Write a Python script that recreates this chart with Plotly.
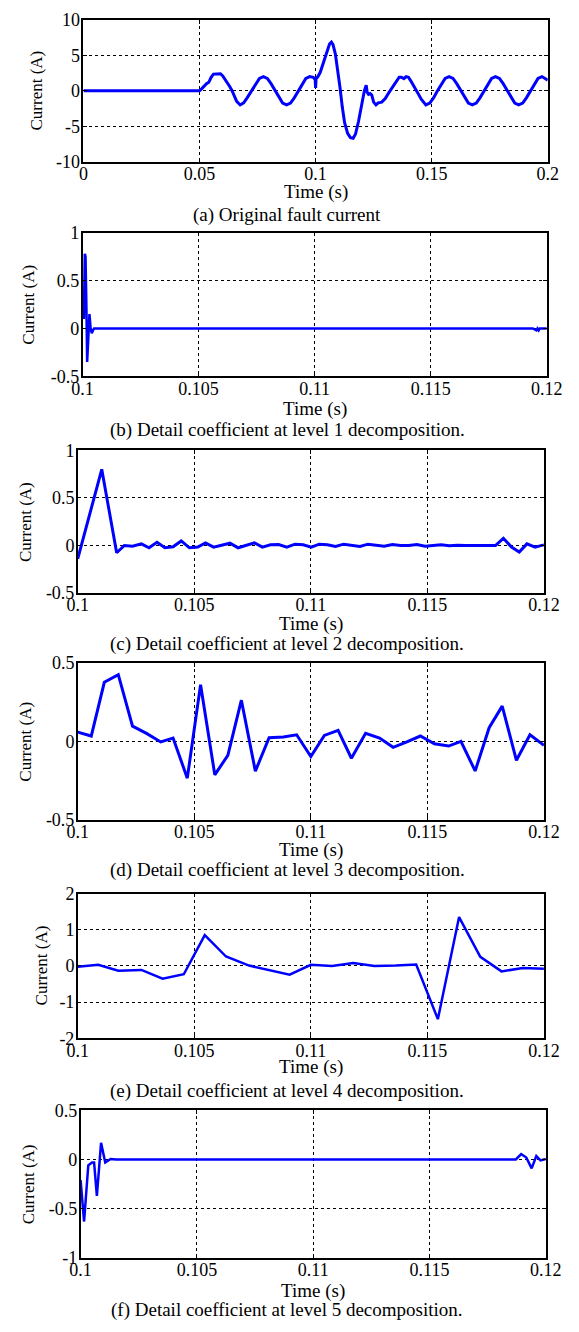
import plotly.graph_objects as go

# ---------------- DATA ----------------
# (a) Original fault current
t_a = [0.0, 0.05, 0.051, 0.052, 0.053, 0.054, 0.055, 0.056, 0.0575, 0.059, 0.060, 0.0615,
       0.063, 0.064, 0.065, 0.066, 0.0675, 0.069, 0.0705, 0.0725, 0.0742, 0.0758, 0.0775,
       0.0792, 0.0808, 0.0825, 0.0842, 0.0858, 0.0875, 0.0892, 0.0908, 0.0925, 0.0942,
       0.0958, 0.0975, 0.0990, 0.0998, 0.1000, 0.1002, 0.1010, 0.1020, 0.1030, 0.1040,
       0.1050, 0.1060, 0.1068, 0.1075, 0.1085, 0.1095, 0.1105, 0.1115, 0.1125, 0.1138,
       0.1150, 0.1162, 0.1172, 0.1185, 0.1198, 0.1210, 0.1218, 0.1222, 0.1228, 0.1235,
       0.1242, 0.1250, 0.1260, 0.1270, 0.1285, 0.1300, 0.1315, 0.1330, 0.1340, 0.1350,
       0.1360, 0.1370, 0.1380, 0.1390, 0.1400, 0.1410, 0.1425, 0.1440, 0.1455, 0.1475,
       0.1492, 0.1508, 0.1525, 0.1542, 0.1558, 0.1575, 0.1592, 0.1608, 0.1625, 0.1642,
       0.1658, 0.1675, 0.1692, 0.1708, 0.1725, 0.1742, 0.1758, 0.1775, 0.1792, 0.1808,
       0.1825, 0.1842, 0.1858, 0.1875, 0.1892, 0.1908, 0.1925, 0.1942, 0.1958, 0.1975,
       0.1992, 0.2]
i_a = [0.0, 0.0, 0.3, 0.7, 1.0, 1.2, 1.9, 2.35, 2.4, 2.4, 2.1, 1.4,
       0.6, 0.0, -0.9, -1.5, -2.0, -1.7, -1.0, 0.0, 1.0, 1.73, 2.0,
       1.73, 1.0, 0.0, -1.0, -1.73, -2.0, -1.73, -1.0, 0.0, 1.0,
       1.73, 2.0, 1.9, 1.6, 0.4, 1.7, 2.0, 2.6, 3.6, 4.6,
       5.8, 6.6, 6.85, 6.5, 5.2, 3.0, 0.5, -2.3, -4.5, -6.0,
       -6.6, -6.7, -6.1, -4.3, -1.8, 0.0, 0.8, -0.2, -0.5, -0.4,
       -0.6, -1.6, -2.0, -1.7, -1.6, -1.1, -0.3, 0.4, 0.8, 1.4,
       1.9, 1.9, 1.7, 2.0, 1.9, 1.4, 0.6, -0.3, -1.2, -2.0,
       -1.73, -1.0, 0.0, 1.0, 1.73, 2.0, 1.73, 1.0, 0.0, -1.0,
       -1.73, -2.0, -1.73, -1.0, 0.0, 1.0, 1.73, 2.0, 1.73, 1.0,
       0.0, -1.0, -1.73, -2.0, -1.73, -1.0, 0.0, 1.0, 1.73, 2.0,
       1.73, 1.5]

# (b) Detail coefficient level 1
t_b = [0.1, 0.10003, 0.10006, 0.1001, 0.10013, 0.10017, 0.1002, 0.10025, 0.1003,
       0.10035, 0.1004, 0.10045, 0.1005, 0.1006, 0.1194, 0.11955, 0.1196, 0.11965,
       0.1197, 0.11975, 0.12]
d1 = [0.18, 0.12, 0.1, 0.78, 0.75, 0.2, -0.35, -0.1, 0.15,
      0.0, -0.05, -0.02, 0.0, 0.0, 0.0, -0.02, 0.0, -0.02,
      0.0, 0.0, 0.0]

# (c) Detail coefficient level 2
t_c = [0.1, 0.10103, 0.10167, 0.1020, 0.10235, 0.10273, 0.10306, 0.1034, 0.10374,
       0.10409, 0.10444, 0.10479, 0.10515, 0.10548, 0.10583, 0.10618, 0.10653, 0.10688,
       0.10723, 0.10758, 0.10792, 0.10827, 0.10862, 0.10897, 0.10932, 0.10967, 0.11002,
       0.11036, 0.11071, 0.11106, 0.11141, 0.11176, 0.11211, 0.11245, 0.1128, 0.11315,
       0.1135, 0.11385, 0.1142, 0.11455, 0.1149, 0.11524, 0.11559, 0.11594, 0.11629,
       0.11664, 0.11698, 0.11733, 0.11768, 0.11792, 0.11826, 0.11861, 0.11894, 0.11927,
       0.11962, 0.12]
d2 = [-0.14, 0.80, -0.076, 0.0, -0.007, 0.017, -0.024, 0.034, -0.024,
      -0.014, 0.048, -0.024, -0.017, 0.028, -0.017, 0.0, 0.024, -0.024,
      0.0, 0.028, -0.017, 0.007, 0.01, -0.017, 0.014, 0.007, -0.017,
      0.014, 0.007, -0.01, 0.014, 0.0, -0.01, 0.014, 0.0, -0.007,
      0.01, 0.0, 0.0, 0.01, -0.007, -0.003, 0.007, -0.003, 0.003,
      0.0, -0.003, 0.0, 0.0, 0.0, 0.076, -0.017, -0.069, 0.017,
      -0.017, 0.007]

# (d) Detail coefficient level 3
t_d = [0.1, 0.10058, 0.10114, 0.10174, 0.10235, 0.10295, 0.10356, 0.10409, 0.1047,
       0.10527, 0.10588, 0.10644, 0.10702, 0.10762, 0.10821, 0.10882, 0.10939, 0.11,
       0.11058, 0.11117, 0.11174, 0.11235, 0.11295, 0.11353, 0.11412, 0.1147, 0.1153,
       0.11591, 0.11644, 0.11705, 0.11765, 0.11821, 0.11882, 0.1194, 0.12]
d3 = [0.059, 0.034, 0.377, 0.426, 0.097, 0.051, -0.004, 0.021, -0.235,
      0.362, -0.214, -0.089, 0.263, -0.19, 0.023, 0.028, 0.042, -0.097,
      0.038, 0.07, -0.108, 0.051, 0.021, -0.038, -0.004, 0.034, -0.015,
      -0.03, 0.0, -0.189, 0.087, 0.225, -0.121, 0.042, -0.025]

# (e) Detail coefficient level 4
t_e = [0.1, 0.10088, 0.10174, 0.10273, 0.10364, 0.10455, 0.10545, 0.10636, 0.10735,
       0.10826, 0.10909, 0.11, 0.11091, 0.11182, 0.11273, 0.11364, 0.11452, 0.11545,
       0.11636, 0.11727, 0.11818, 0.11909, 0.12]
d4 = [-0.02, 0.03, -0.13, -0.11, -0.35, -0.23, 0.85, 0.26, 0.01,
      -0.13, -0.24, 0.03, 0.0, 0.08, 0.0, 0.01, 0.04, -1.47,
      1.35, 0.25, -0.15, -0.06, -0.08]

# (f) Detail coefficient level 5
t_f = [0.1, 0.10015, 0.10033, 0.10049, 0.10058, 0.1007, 0.10088, 0.10106, 0.10129,
       0.10152, 0.11871, 0.11894, 0.11916, 0.11939, 0.11959, 0.11977, 0.12]
d5 = [-0.21, -0.63, -0.06, -0.03, -0.03, -0.37, 0.17, -0.03, 0.005,
      0.0, 0.0, 0.055, 0.02, -0.09, 0.035, -0.01, 0.005]

# Tick values / labels
xt_a = [0, 0.05, 0.1, 0.15, 0.2]
xl_a = ["0", "0.05", "0.1", "0.15", "0.2"]
xt_d = [0.1, 0.105, 0.11, 0.115, 0.12]
xl_d = ["0.1", "0.105", "0.11", "0.115", "0.12"]
yt_a = [-10, -5, 0, 5, 10]
yl_a = ["-10", "-5", "0", "5", "10"]
yt_b = [-0.5, 0, 0.5, 1]
yl_b = ["-0.5", "0", "0.5", "1"]
yt_d = [-0.5, 0, 0.5]
yl_d = ["-0.5", "0", "0.5"]
yt_e = [-2, -1, 0, 1, 2]
yl_e = ["-2", "-1", "0", "1", "2"]
yt_f = [-1, -0.5, 0, 0.5]
yl_f = ["-1", "-0.5", "0", "0.5"]

captions = ["(a) Original fault current",
            "(b) Detail coefficient at level 1 decomposition.",
            "(c) Detail coefficient at level 2 decomposition.",
            "(d) Detail coefficient at level 3 decomposition.",
            "(e) Detail coefficient at level 4 decomposition.",
            "(f) Detail coefficient at level 5 decomposition."]

# ---------------- LAYOUT ----------------
W, H = 579, 1332
FONT = "Liberation Serif, Times New Roman, serif"

# pixel boxes: x0, x1, ytop, ybottom ; plus label positions
boxes = [(76, 563, 10, 154), (75, 562, 226, 372), (70, 559, 447, 592),
         (70, 559, 663, 822), (70, 559, 897, 1044), (73, 561, 1117, 1267)]
xlabel_y = [185, 405, 623, 853, 1073, 1301]
caption_y = [208, 426, 644, 873, 1097, 1320]
ylabel_x = [27, 18, 15, 15, 32, 18]

series = [(t_a, i_a, 3.0), (t_b, d1, 2.5), (t_c, d2, 3.0),
          (t_d, d3, 3.0), (t_e, d4, 2.5), (t_f, d5, 2.5)]
xranges = [[0, 0.2]] + [[0.1, 0.12]] * 5
yranges = [[-10, 10], [-0.5, 1], [-0.5, 1], [-0.5, 0.5], [-2, 2], [-1, 0.5]]
xticks = [(xt_a, xl_a)] + [(xt_d, xl_d)] * 5
yticks = [(yt_a, yl_a), (yt_b, yl_b), (yt_b, yl_b), (yt_d, yl_d), (yt_e, yl_e), (yt_f, yl_f)]

fig = go.Figure()
annotations = []
layout_axes = {}

for k in range(6):
    n = "" if k == 0 else str(k + 1)
    x, y, lw = series[k]
    fig.add_trace(go.Scatter(x=x, y=y, mode="lines",
                             line=dict(color="#0000FF", width=lw),
                             xaxis="x" + n, yaxis="y" + n, showlegend=False,
                             hoverinfo="skip"))
    x0, x1, yt, yb = boxes[k]
    common = dict(showline=True, linecolor="black", linewidth=1.5, mirror="allticks",
                  ticks="inside", ticklen=4, tickcolor="black",
                  showgrid=True, gridcolor="black", griddash="dot", gridwidth=1,
                  zeroline=False, tickfont=dict(family=FONT, size=18, color="black"))
    layout_axes["xaxis" + n] = dict(common, domain=[x0 / W, x1 / W],
                                    anchor="y" + n, range=xranges[k],
                                    tickmode="array", tickvals=xticks[k][0],
                                    ticktext=xticks[k][1], ticklabelstandoff=-5)
    layout_axes["yaxis" + n] = dict(common, domain=[1 - yb / H, 1 - yt / H],
                                    anchor="x" + n, range=yranges[k],
                                    tickmode="array", tickvals=yticks[k][0],
                                    ticktext=yticks[k][1], ticklabelstandoff=-2)
    annotations.append(dict(text="Time (s)", x=(x0 + x1) / 2 / W, y=1 - xlabel_y[k] / H,
                            xref="paper", yref="paper", showarrow=False,
                            xanchor="center", yanchor="middle",
                            font=dict(family=FONT, size=19, color="black")))
    annotations.append(dict(text=captions[k], x=0.5, y=1 - caption_y[k] / H,
                            xref="paper", yref="paper", showarrow=False,
                            xanchor="center", yanchor="middle",
                            font=dict(family=FONT, size=19, color="black")))
    annotations.append(dict(text="Current (A)", x=ylabel_x[k] / W, y=1 - (yt + yb) / 2 / H,
                            xref="paper", yref="paper", showarrow=False, textangle=-90,
                            xanchor="center", yanchor="middle",
                            font=dict(family=FONT, size=17, color="black")))

fig.update_layout(width=W, height=H, margin=dict(l=0, r=0, t=0, b=0),
                  paper_bgcolor="white", plot_bgcolor="white",
                  annotations=annotations, **layout_axes)

fig.write_html("out.html", config={"displayModeBar": False},
               post_script="document.body.style.margin='0px';"
                           "document.body.style.overflow='hidden';")
